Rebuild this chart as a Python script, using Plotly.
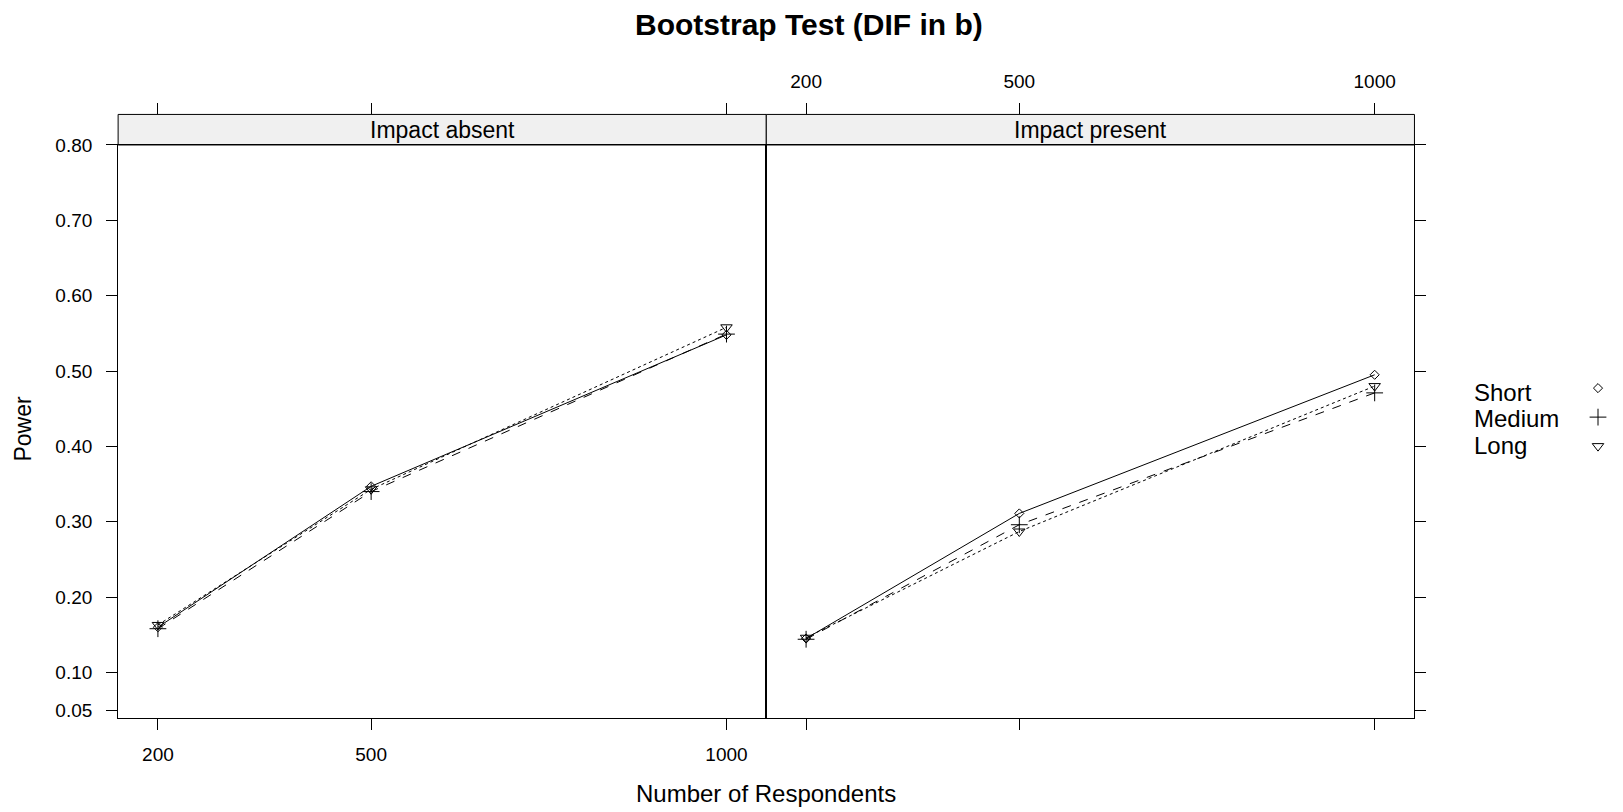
import plotly.graph_objects as go

# ---- data ----
respondents = [200, 500, 1000]
panels = ["Impact absent", "Impact present"]
series = ["Short", "Medium", "Long"]
absent_short = [0.160, 0.347, 0.548]
absent_medium = [0.158, 0.340, 0.549]
absent_long = [0.163, 0.343, 0.558]
present_short = [0.145, 0.311, 0.495]
present_medium = [0.144, 0.296, 0.471]
present_long = [0.146, 0.287, 0.480]
y_ticks = [0.05, 0.10, 0.20, 0.30, 0.40, 0.50, 0.60, 0.70, 0.80]
y_ticktext = ["0.05", "0.10", "0.20", "0.30", "0.40", "0.50", "0.60", "0.70", "0.80"]
x_ticks = [200, 500, 1000]
x_ticktext = ["200", "500", "1000"]

# ---- styles ----
W, H = 1623, 812
FONT = "Liberation Sans, Arial, sans-serif"
dash = {"Short": "solid", "Medium": "dash", "Long": "dot"}
symbol = {"Short": "diamond-open", "Medium": "cross-thin-open", "Long": "triangle-down-open"}
msize = {"Short": 7, "Medium": 12, "Long": 10}

xl = [119 / W, 772 / W]
xr = [772 / W, 1425 / W]
yd = [1 - 719 / H, 1 - 137 / H]
strip_top = 1 - 106 / H
xrange_ = [144, 1056]
yrange_ = [0.039, 0.80]

fig = go.Figure()
data = {
    ("Impact absent", "Short"): absent_short,
    ("Impact absent", "Medium"): absent_medium,
    ("Impact absent", "Long"): absent_long,
    ("Impact present", "Short"): present_short,
    ("Impact present", "Medium"): present_medium,
    ("Impact present", "Long"): present_long,
}
for p_i, panel in enumerate(panels):
    xa = "x" if p_i == 0 else "x2"
    ya = "y" if p_i == 0 else "y2"
    for s in series:
        fig.add_trace(go.Scatter(
            x=respondents, y=data[(panel, s)], mode="lines+markers",
            xaxis=xa, yaxis=ya, showlegend=False, name=s,
            line=dict(color="black", width=1, dash=dash[s]),
            marker=dict(symbol=symbol[s], size=msize[s], color="black",
                        line=dict(color="black", width=1)),
        ))

# legend symbols (legend-only entries)
for s in series:
    fig.add_trace(go.Scatter(
        x=[None], y=[None], mode="markers", name="", showlegend=True,
        marker=dict(symbol=symbol[s], size=msize[s], color="black",
                    line=dict(color="black", width=1)),
    ))

TICKFONT = dict(family=FONT, size=19, color="black")
axis_common = dict(showline=True, linecolor="black", linewidth=1, mirror=True,
                   showgrid=False, zeroline=False, ticks="outside", ticklen=11,
                   tickcolor="black", tickwidth=1, tickfont=TICKFONT)

fig.update_layout(
    width=W, height=H, margin=dict(l=0, r=0, t=0, b=0),
    paper_bgcolor="white", plot_bgcolor="white",
    xaxis=dict(domain=xl, range=xrange_, tickvals=x_ticks, ticktext=x_ticktext,
               anchor="y", ticklabelstandoff=8, **axis_common),
    xaxis2=dict(domain=xr, range=xrange_, tickvals=x_ticks, ticktext=x_ticktext,
                anchor="y2", showticklabels=False, **axis_common),
    xaxis3=dict(domain=xl, range=xrange_, tickvals=x_ticks, anchor="free",
                position=strip_top, side="top", overlaying="x",
                showticklabels=False, showline=False, showgrid=False, zeroline=False,
                ticks="outside", ticklen=11, tickcolor="black"),
    xaxis4=dict(domain=xr, range=xrange_, tickvals=x_ticks, ticktext=x_ticktext,
                anchor="free", position=strip_top, side="top", overlaying="x2",
                showline=False, showgrid=False, zeroline=False,
                ticks="outside", ticklen=11, tickcolor="black", ticklabelstandoff=8,
                tickfont=TICKFONT),
    yaxis=dict(domain=yd, range=yrange_, tickvals=y_ticks, ticktext=y_ticktext,
               anchor="x", ticklabelstandoff=10, **axis_common),
    yaxis2=dict(domain=yd, range=yrange_, tickvals=y_ticks, ticktext=y_ticktext,
                anchor="x2", side="right", showticklabels=False, **axis_common),
    legend=dict(x=1590 / W, y=1 - 364 / H, xanchor="left", yanchor="top",
                font=dict(family=FONT, size=20), tracegroupgap=0,
                bgcolor="rgba(0,0,0,0)", itemwidth=30),
    showlegend=True,
)

# hidden traces so the top axes render
fig.add_trace(go.Scatter(x=[None], y=[None], xaxis="x3", yaxis="y", showlegend=False, hoverinfo="skip"))
fig.add_trace(go.Scatter(x=[None], y=[None], xaxis="x4", yaxis="y2", showlegend=False, hoverinfo="skip"))

# strips
for dom, label in zip([xl, xr], panels):
    fig.add_shape(type="rect", xref="paper", yref="paper", x0=dom[0], x1=dom[1],
                  y0=yd[1], y1=strip_top, fillcolor="#f0f0f0",
                  line=dict(color="black", width=1), layer="below")
    fig.add_annotation(text=label, xref="paper", yref="paper", x=(dom[0] + dom[1]) / 2,
                       y=(yd[1] + strip_top) / 2, showarrow=False,
                       font=dict(family=FONT, size=23, color="black"),
                       xanchor="center", yanchor="middle")

# legend text
for i, s in enumerate(series):
    fig.add_annotation(text=s, xref="paper", yref="paper", x=1483 / W,
                       y=1 - (388 + 27 * i) / H, showarrow=False, xanchor="left",
                       yanchor="middle", font=dict(family=FONT, size=24, color="black"))

# titles
fig.add_annotation(text="<b>Bootstrap Test (DIF in b)</b>", xref="paper", yref="paper",
                   x=0.502, y=1 - 15 / H, showarrow=False, xanchor="center", yanchor="middle",
                   font=dict(family=FONT, size=30, color="black"))
fig.add_annotation(text="Number of Respondents", xref="paper", yref="paper",
                   x=(xl[0] + xr[1]) / 2, y=1 - 795 / H, showarrow=False,
                   xanchor="center", yanchor="middle",
                   font=dict(family=FONT, size=24, color="black"))
fig.add_annotation(text="Power", xref="paper", yref="paper", x=23 / W,
                   y=1 - 425 / H, showarrow=False, textangle=-90,
                   xanchor="center", yanchor="middle",
                   font=dict(family=FONT, size=23, color="black"))

fig.write_html("out.html")
